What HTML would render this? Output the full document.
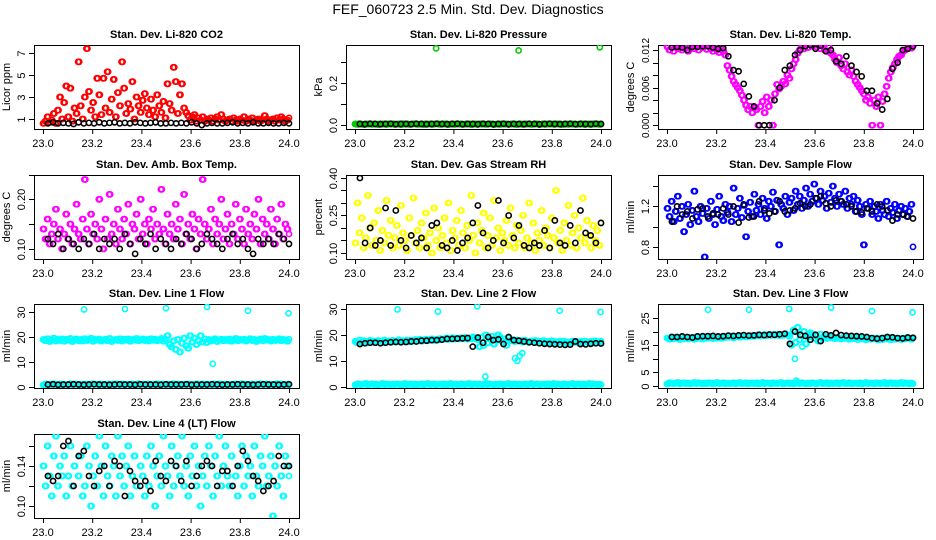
<!DOCTYPE html>
<html><head><meta charset="utf-8"><title>FEF_060723 Diagnostics</title>
<style>
html,body{margin:0;padding:0;background:#fff;}
svg{display:block;font-family:"Liberation Sans",Arial,sans-serif;}
</style></head>
<body>
<svg id="chart" width="936" height="540" viewBox="0 0 936 540" xmlns="http://www.w3.org/2000/svg">
<rect x="0" y="0" width="936" height="540" fill="#fff"/>
<text x="468" y="14" text-anchor="middle" font-size="14" fill="#000">FEF_060723  2.5 Min. Std. Dev. Diagnostics</text>
</svg>
<script>
// ---------------- data ----------------
const xTickVals = [23.0, 23.2, 23.4, 23.6, 23.8, 24.0];
const xTickLabels = ["23.0","23.2","23.4","23.6","23.8","24.0"];
const colorStart = 23.0, colorEnd = 24.0;
const blackStart = 23.02, blackEnd = 24.0;

const co2Red = [0.6,0.8,1.2,0.7,0.9,1.5,0.6,1.8,3.0,1.0,2.5,4.0,1.2,3.8,0.8,2.0,1.5,6.2,2.2,1.0,3.0,7.4,3.5,1.8,2.5,1.2,4.7,3.2,1.4,4.7,2.0,5.3,1.6,2.8,4.6,1.2,3.4,2.2,6.2,3.8,1.5,2.4,1.9,4.4,1.0,3.0,2.2,1.6,2.7,3.3,2.0,1.4,2.8,1.8,1.2,3.2,2.2,1.6,2.6,1.1,4.2,2.4,1.8,5.7,4.4,1.5,3.2,4.2,2.0,1.6,1.3,0.9,1.2,1.4,0.8,1.1,0.9,1.2,0.8,1.0,0.9,1.1,0.8,1.0,1.2,0.9,1.4,1.0,0.8,0.9,1.0,0.8,1.1,0.9,0.8,1.0,0.9,1.2,0.8,1.0,0.9,1.1,0.8,0.9,1.0,0.8,0.9,1.3,1.0,0.8,0.9,1.0,0.8,1.1,0.9,1.2,1.0,0.8,0.9,1.1];
const co2Black = [0.6,0.7,0.6,0.65,0.6,0.55,0.7,0.6,0.65,0.6,0.7,0.6,0.65,0.7,0.6,0.65,0.6,0.7,0.65,0.6,0.65,0.7,0.6,0.6,0.65,0.6,0.65,0.6,0.7,0.6,0.45,0.6,0.65,0.6,0.6,0.65,0.7,0.6,0.65,0.6,0.7,0.6,0.6,0.65,0.6,0.6,0.65,0.6];

const pressGreen = [0.005,0.003,0.006,0.004,0.002,0.005,0.004,0.006,0.003,0.005,0.004,0.002,0.006,0.004,0.005,0.003,0.005,0.004,0.006,0.003,0.004,0.005,0.002,0.006,0.004,0.005,0.003,0.004,0.006,0.005,0.003,0.004,0.005,0.002,0.006,0.004,0.005,0.003,0.004,0.006,0.005,0.003,0.004,0.005,0.006,0.002,0.004,0.005,0.003,0.006,0.004,0.005,0.003,0.004,0.006,0.005,0.002,0.004,0.005,0.003,0.006,0.004,0.005,0.003,0.004,0.006,0.005,0.002,0.004,0.005,0.003,0.006,0.004,0.005,0.003,0.004,0.006,0.005,0.002,0.004,0.005,0.003,0.006,0.004,0.005,0.003,0.004,0.006,0.005,0.002,0.004,0.005,0.003,0.006,0.004,0.005,0.003,0.004,0.006,0.005,0.002,0.004,0.005,0.003,0.006,0.004,0.005,0.003,0.004,0.006,0.005,0.002,0.004,0.005,0.003,0.006,0.004,0.005,0.003,0.004];
const pressOutX = [23.33, 23.665, 23.995];
const pressOutY = [0.365, 0.355, 0.37];
const pressBlack = [0.005,0.004,0.006,0.005,0.004,0.005,0.006,0.004,0.005,0.005,0.004,0.006,0.005,0.004,0.005,0.006,0.005,0.004,0.005,0.006,0.004,0.005,0.005,0.004,0.006,0.005,0.004,0.005,0.006,0.004,0.005,0.005,0.004,0.006,0.005,0.004,0.005,0.006,0.005,0.004,0.005,0.006,0.004,0.005,0.005,0.004,0.006,0.005];

const tempMag = [.0125,.0120,.0128,.0118,.0125,.0122,.0128,.0120,.0126,.0123,.0118,.0125,.0128,.0122,.0126,.0120,.0128,.0124,.0127,.0121,.0126,.0122,.0118,.0124,.0120,.0116,.0122,.0118,.0112,.0095,.0088,.0078,.0070,.0065,.0060,.0055,.0048,.0040,.0032,.0025,.0030,.0020,.0028,.0025,.0000,.0030,.0038,.0020,.0045,.0030,.0040,.0000,.0050,.0065,.0058,.0062,.0070,.0066,.0080,.0075,.0090,.0098,.0105,.0115,.0120,.0125,.0122,.0128,.0124,.0130,.0126,.0130,.0125,.0128,.0122,.0127,.0120,.0118,.0125,.0115,.0112,.0105,.0100,.0108,.0095,.0090,.0098,.0085,.0080,.0088,.0078,.0070,.0065,.0060,.0055,.0050,.0040,.0045,.0035,.0000,.0040,.0030,.0045,.0000,.0038,.0050,.0062,.0075,.0085,.0092,.0098,.0105,.0110,.0112,.0118,.0120,.0122,.0125,.0123,.0126];
const tempBlack = [.0124,.0125,.0124,.0120,.0125,.0125,.0126,.0126,.0124,.0122,.0123,.0110,.0088,.0086,.0066,.0046,.0030,.0000,.0000,.0000,.0040,.0060,.0088,.0095,.0112,.0120,.0126,.0128,.0122,.0127,.0118,.0120,.0102,.0098,.0110,.0095,.0085,.0078,.0055,.0055,.0035,.0025,.0042,.0090,.0100,.0120,.0122,.0126];

const ambMag = [.14,.12,.16,.11,.13,.15,.18,.12,.14,.10,.13,.17,.12,.15,.11,.14,.19,.13,.12,.16,.24,.14,.11,.17,.13,.15,.12,.20,.14,.10,.16,.12,.21,.13,.15,.11,.18,.14,.12,.16,.13,.19,.11,.15,.14,.17,.12,.20,.13,.15,.11,.16,.14,.18,.12,.15,.13,.22,.14,.11,.17,.13,.15,.12,.19,.14,.16,.11,.21,.13,.15,.12,.17,.14,.10,.16,.13,.24,.15,.12,.14,.18,.11,.16,.13,.15,.20,.12,.14,.17,.11,.15,.13,.19,.12,.16,.14,.11,.18,.13,.15,.12,.17,.14,.20,.11,.16,.13,.15,.12,.18,.14,.11,.16,.13,.19,.12,.15,.14,.13];
const ambBlack = [.12,.11,.13,.10,.12,.11,.10,.12,.11,.13,.10,.12,.11,.12,.10,.13,.11,.09,.12,.11,.13,.10,.12,.11,.10,.12,.11,.13,.12,.10,.11,.13,.12,.11,.10,.12,.13,.11,.12,.10,.09,.12,.11,.12,.11,.13,.12,.11];

const rhYellow = [.14,.30,.18,.24,.12,.16,.33,.20,.13,.22,.15,.27,.11,.19,.14,.31,.17,.23,.12,.16,.21,.13,.29,.18,.15,.11,.24,.17,.32,.14,.19,.12,.22,.16,.26,.13,.18,.10,.28,.15,.20,.12,.17,.24,.14,.30,.11,.19,.16,.23,.13,.27,.18,.12,.21,.15,.33,.17,.10,.22,.14,.19,.26,.12,.17,.24,.13,.31,.16,.20,.11,.18,.15,.23,.13,.28,.17,.12,.21,.14,.19,.25,.12,.16,.30,.14,.22,.11,.18,.15,.27,.13,.20,.17,.12,.24,.16,.35,.14,.19,.11,.22,.15,.29,.13,.18,.25,.12,.20,.16,.32,.14,.23,.17,.12,.21,.15,.19,.13,.22];
const rhBlack = [.40,.14,.20,.13,.15,.28,.13,.27,.15,.12,.17,.14,.16,.12,.21,.22,.13,.12,.15,.11,.14,.16,.22,.29,.18,.12,.15,.31,.14,.25,.16,.21,.13,.12,.14,.13,.19,.12,.23,.14,.13,.21,.14,.27,.18,.17,.14,.22];

const flowBlue = [1.18,1.10,1.25,1.05,1.15,1.30,1.08,1.20,0.95,1.12,1.22,1.02,1.16,1.35,1.10,1.05,1.20,1.13,0.70,1.18,1.08,1.25,1.12,1.02,1.17,1.30,1.10,1.06,1.22,1.14,1.20,1.05,1.38,1.12,1.18,1.28,1.09,1.21,0.90,1.15,1.24,1.10,1.32,1.16,1.22,1.12,1.28,1.18,1.08,1.25,1.20,1.34,1.15,1.26,0.82,1.22,1.18,1.30,1.12,1.24,1.28,1.16,1.35,1.22,1.30,1.18,1.26,1.38,1.20,1.32,1.25,1.42,1.28,1.22,1.35,1.26,1.30,1.18,1.33,1.24,1.40,1.28,1.20,1.32,1.25,1.22,1.35,1.18,1.28,1.22,1.30,1.15,1.26,1.20,1.12,0.82,1.22,1.18,1.25,1.12,1.20,1.15,1.08,1.22,1.16,1.12,1.25,1.10,1.18,1.14,1.22,1.08,1.16,1.20,1.12,1.18,1.10,1.15,1.22,0.80];
const flowBlack = [1.05,1.20,1.12,1.15,1.08,1.17,1.18,1.10,1.13,1.12,1.18,1.12,1.20,1.04,1.22,1.09,1.10,1.25,1.16,1.13,1.15,1.25,1.15,1.16,1.18,1.23,1.20,1.22,1.28,1.30,1.23,1.20,1.26,1.25,1.22,1.20,1.15,1.14,1.18,1.15,1.22,1.20,1.16,1.06,1.12,1.12,1.10,1.08];

const line1Upper = [19,18.5,19.3,18.2,18.8,19.5,18.4,19,18.6,19.2,18.3,19.1,18.7,19.4,18.2,18.9,19.2,18.5,19,18.4,19.3,18.6,18.9,19.5,18.3,19,18.7,19.2,18.4,18.8,19.1,18.5,19.4,18.2,18.9,19,18.6,19.3,18.4,19.1,18.7,19.2,18.3,19,18.8,19.4,18.5,18.9,19.2,18.6,19,18.4,19.3,18.7,19.1,18.5,18.9,19.4,18.3,19,20.5,17,16,18.5,15,19,14,17.5,19.5,16.5,15.5,20.5,18,19.5,17,18.5,20.5,18,19.2,17.8,19,18.4,18.8,19.3,18.2,18.9,19.1,18.5,19,18.6,19.2,18.3,18.8,19.4,18.5,19,18.7,19.1,18.4,18.9,19.3,18.6,19,18.2,18.8,19.2,18.5,19.4,18.7,19,18.4,19.1,18.6,18.9,19.3,18.5,19,18.8,18.3,19.1];
const flowLow = [0.8,1.2,1.0,0.9,1.1,1.3,0.8,1.0,1.2,0.9,1.1,0.8,1.0,1.3,0.9,1.2,1.0,0.8,1.1,0.9,1.2,1.0,0.8,1.1,1.3,0.9,1.0,1.2,0.8,1.1,0.9,1.0,1.2,0.8,1.1,1.3,0.9,1.0,1.2,0.8,1.0,1.1,0.9,1.2,0.8,1.0,1.3,0.9,1.1,1.0,0.8,1.2,1.0,0.9,1.1,1.3,0.8,1.0,1.2,0.9,1.1,0.8,1.0,1.3,0.9,1.2,1.0,0.8,1.1,0.9,1.2,1.0,0.8,1.1,1.3,0.9,1.0,1.2,0.8,1.1,0.9,1.0,1.2,0.8,1.1,1.3,0.9,1.0,1.2,0.8,1.0,1.1,0.9,1.2,0.8,1.0,1.3,0.9,1.1,1.0,0.8,1.2,1.0,0.9,1.1,1.3,0.8,1.0,1.2,0.9,1.1,0.8,1.0,1.3,0.9,1.2,1.0,0.8,1.1,0.9];
const line1OutX = [23.167, 23.333, 23.5, 23.667, 23.69, 23.833, 23.998];
const line1OutY = [31, 31.2, 31.5, 32, 9.3, 30.5, 29.5];
const line1Black = [1,1.1,0.9,1,1,1.1,1,0.9,1,1.1,1,1,0.9,1,1.1,1,1,0.9,1.1,1,1,1,0.9,1.1,1,1,1,1.1,0.9,1,1,1,1.1,1,0.9,1,1,1.1,1,1,0.9,1,1.1,1,1,0.9,1,1.1];

const line2Upper = [17.5,17,18,17.2,17.8,17.4,17,17.9,17.3,17.6,17.2,17.8,17.5,17.1,18,17.4,17.7,17.2,17.9,17.5,17.6,18.1,17.3,17.8,17.5,18,17.4,17.9,17.7,18.2,17.8,18.3,17.6,18,18.4,17.8,18.2,18.5,17.9,18.3,18.1,18.6,18.2,18.4,18.8,18.3,18.6,18.9,18.4,18.7,18.5,18.9,18.6,19,18.4,18.8,18.5,19.2,18.7,18.2,15.5,19,16,20,17,18.5,19.5,16.5,18,20,19,17.5,18.5,16,19,17.8,18.2,17.5,18,17.6,17.8,17.3,17.9,17.5,17.2,17.7,17.4,17.8,17.1,17.6,17.3,17.8,17,17.5,17.2,17.7,16.9,17.4,17.1,17.6,17.2,17.5,16.8,17.3,17,17.6,17.2,17.4,16.9,17.5,17.1,17.6,17.3,17,17.5,17.2,17.7,17.4,17.1,17.6];
const line2OutX = [23.173, 23.337, 23.497, 23.53, 23.65, 23.66, 23.67, 23.68, 23.832, 23.998];
const line2OutY = [29.8, 29, 31, 4, 11, 10, 12, 13, 29.3, 28.8];
const line2Black = [16.5,16.8,17,17,16.8,17,17.2,17.3,17.2,17.3,17.5,17.5,17.8,17.8,18,18,18.2,18.5,18.5,18.6,18.7,18.8,15.5,19,17,19.2,18,18.3,16.5,19.2,18,17.8,17.5,17.2,17,16.8,16.6,16.5,16.4,16.3,16.2,16.3,17.5,16.5,16.4,16.6,16.8,16.7];

const line3Upper = [17.6,17.2,18,17.4,17.9,17.5,17.1,18,17.4,17.7,17.3,17.9,17.6,17.2,18.1,17.5,17.8,17.3,18,17.6,17.7,18.2,17.4,17.9,17.6,18.1,17.5,18,17.8,18.2,17.9,18.3,17.7,18.1,18.4,17.9,18.2,18.5,18,18.3,18.2,18.6,18.3,18.5,18.8,18.4,18.6,18.9,18.5,18.7,18.6,18.9,18.7,19,18.5,18.8,18.6,19.2,18.8,18.3,15,20.5,16,21.5,17,18.5,20,15.5,18,19.5,19,17.5,18.5,16.5,19,17.8,18.2,17.5,18,17.7,17.8,17.4,17.9,17.5,17.3,17.8,17.5,17.9,17.2,17.7,17.4,17.8,17.1,17.6,17.3,17.7,17,17.5,17.2,17.6,17.3,17.6,16.9,17.4,17.1,17.7,17.3,17.5,17,17.6,17.2,17.6,17.4,17.1,17.6,17.3,17.8,17.5,17.2,17.7];
const line3OutX = [23.167, 23.333, 23.497, 23.52, 23.525, 23.55, 23.667, 23.833, 23.998];
const line3OutY = [28, 28, 28.3, 10, 2, 14.5, 28.8, 27.5, 27];
const line3Black = [18,18,18.2,18,17.8,18.2,18.3,18.3,18.4,18.2,18.3,18.5,18.4,18.6,18.7,18.5,18.6,18.8,18.7,18.9,18.8,19,19.2,15.5,20,18.8,18.4,17,18.8,16.5,19,18.6,19.5,18.7,18.5,18.4,18.3,18.2,18,17.6,17.4,17.6,18,17.9,17.6,17.5,17.8,17.7];

const line4Cyan = [.14,.12,.16,.13,.11,.15,.17,.12,.14,.13,.15,.11,.13,.16,.12,.14,.18,.13,.15,.11,.12,.16,.14,.10,.13,.15,.12,.17,.14,.11,.16,.13,.12,.15,.14,.11,.17,.13,.15,.12,.14,.16,.11,.13,.15,.12,.18,.14,.13,.11,.15,.12,.16,.14,.10,.13,.15,.12,.17,.14,.13,.11,.16,.12,.14,.15,.13,.17,.12,.14,.11,.15,.13,.16,.12,.14,.10,.13,.15,.12,.16,.14,.11,.15,.13,.17,.12,.14,.16,.13,.12,.15,.18,.13,.11,.14,.16,.12,.15,.13,.14,.11,.16,.13,.12,.15,.14,.17,.12,.13,.15,.09,.14,.12,.16,.13,.11,.15,.14,.13];
const line4Black = [.13,.125,.13,.16,.165,.12,.15,.155,.13,.12,.135,.14,.12,.145,.14,.11,.135,.125,.12,.125,.115,.145,.13,.125,.145,.14,.125,.145,.12,.13,.14,.145,.14,.12,.135,.135,.12,.14,.155,.145,.13,.125,.115,.12,.125,.15,.14,.14];

// ---------------- layout ----------------
const NS = 'http://www.w3.org/2000/svg';
const svg = document.getElementById('chart');
const colX0 = [43, 355, 667];
const rowTop = [45, 175, 304, 434];
const W = 246, H = 84;
const RED = '#ff0000', GREEN = '#00cc00', MAG = '#ff00ff', YEL = '#ffff00', BLUE = '#0000ff', CYAN = '#00ffff', BLK = '#000000';

const panels = [
 {name:'co2', title:'Stan. Dev. Li-820 CO2', ylab:'Licor ppm', col:0,row:0, ymin:0.09,ymax:7.73, fs:11,
  ticks:[1,3,5,7], tlabels:['1','3','5','7'],
  series:[{d:co2Red,c:RED},{d:co2Black,c:BLK,b:true}], outs:[]},
 {name:'pressure', title:'Stan. Dev. Li-820 Pressure', ylab:'kPa', col:1,row:0, ymin:-0.019,ymax:0.381, fs:11,
  ticks:[0,0.1,0.2,0.3], tlabels:['0.0','','0.2',''],
  series:[{d:pressGreen,c:GREEN},{d:pressBlack,c:BLK,b:true}], outs:[{x:pressOutX,y:pressOutY,c:GREEN}]},
 {name:'licor-temp', title:'Stan. Dev. Li-820 Temp.', ylab:'degrees C', col:2,row:0, ymin:-0.0006,ymax:0.0128, fs:10,
  ticks:[0,0.002,0.004,0.006,0.008,0.010,0.012], tlabels:['0.000','','','0.006','','','0.012'],
  series:[{d:tempMag,c:MAG},{d:tempBlack,c:BLK,b:true}], outs:[]},
 {name:'amb-box-temp', title:'Stan. Dev. Amb. Box Temp.', ylab:'degrees C', col:0,row:1, ymin:0.0796,ymax:0.249, fs:11,
  ticks:[0.10,0.15,0.20,0.25], tlabels:['0.10','','0.20',''],
  series:[{d:ambMag,c:MAG},{d:ambBlack,c:BLK,b:true}], outs:[]},
 {name:'gas-stream-rh', title:'Stan. Dev. Gas Stream RH', ylab:'percent', col:1,row:1, ymin:0.0757,ymax:0.412, fs:11,
  ticks:[0.10,0.15,0.20,0.25,0.30,0.35,0.40], tlabels:['0.10','','','0.25','','','0.40'],
  series:[{d:rhYellow,c:YEL},{d:rhBlack,c:BLK,b:true}], outs:[]},
 {name:'sample-flow', title:'Stan. Dev. Sample Flow', ylab:'ml/min', col:2,row:1, ymin:0.68,ymax:1.51, fs:11,
  ticks:[0.8,1.0,1.2,1.4], tlabels:['0.8','','1.2',''],
  series:[{d:flowBlue,c:BLUE},{d:flowBlack,c:BLK,b:true}], outs:[]},
 {name:'line1-flow', title:'Stan. Dev. Line 1 Flow', ylab:'ml/min', col:0,row:2, ymin:-0.4,ymax:33.2, fs:11,
  ticks:[0,10,20,30], tlabels:['0','10','20','30'],
  series:[{d:line1Upper,c:CYAN},{d:flowLow,c:CYAN},{d:line1Black,c:BLK,b:true}], outs:[{x:line1OutX,y:line1OutY,c:CYAN}]},
 {name:'line2-flow', title:'Stan. Dev. Line 2 Flow', ylab:'ml/min', col:1,row:2, ymin:-0.4,ymax:31.9, fs:11,
  ticks:[0,10,20,30], tlabels:['0','10','20','30'],
  series:[{d:line2Upper,c:CYAN},{d:flowLow,c:CYAN},{d:line2Black,c:BLK,b:true}], outs:[{x:line2OutX,y:line2OutY,c:CYAN}]},
 {name:'line3-flow', title:'Stan. Dev. Line 3 Flow', ylab:'ml/min', col:2,row:2, ymin:-0.7,ymax:30.1, fs:11,
  ticks:[0,5,10,15,20,25], tlabels:['0','5','','15','','25'],
  series:[{d:line3Upper,c:CYAN},{d:flowLow,c:CYAN},{d:line3Black,c:BLK,b:true}], outs:[{x:line3OutX,y:line3OutY,c:CYAN}]},
 {name:'line4-flow', title:'Stan. Dev. Line 4 (LT) Flow', ylab:'ml/min', col:0,row:3, ymin:0.088,ymax:0.172, fs:11,
  ticks:[0.10,0.12,0.14,0.16], tlabels:['0.10','','0.14',''],
  series:[{d:line4Cyan,c:CYAN},{d:line4Black,c:BLK,b:true}], outs:[]}
];

function el(tag, parent) {
  const e = document.createElementNS(NS, tag);
  parent.appendChild(e);
  return e;
}
function setA(e, o) { for (const k in o) e.setAttribute(k, o[k]); }

panels.forEach(p => {
  const x0 = colX0[p.col], top = rowTop[p.row], bot = top + H;
  const L = x0 - 9, R = x0 + W + 10;
  const sx = v => x0 + (v - 23) * W;
  const sy = v => bot - (v - p.ymin) / (p.ymax - p.ymin) * H;

  const g = el('g', svg);
  
  

  const t = el('text', g);
  
  
  setA(t, {x:(L+R)/2, y:top-7, 'text-anchor':'middle', 'font-size':11, 'font-weight':'bold'});
  t.textContent = p.title;

  const box = el('rect', g);
  
  
  setA(box, {x:L+0.5, y:top+0.5, width:R-L, height:H, fill:'none', stroke:'#000', 'stroke-width':1});

  const xa = el('g', g);
  
  
  xTickVals.forEach((v, i) => {
    const tk = el('line', xa);
    
    
    setA(tk, {x1:sx(v)+0.5, x2:sx(v)+0.5, y1:bot, y2:bot+5, stroke:'#000'});
    const lb = el('text', xa);
    
    
    setA(lb, {x:sx(v), y:bot+18, 'text-anchor':'middle', 'font-size':11});
    lb.textContent = xTickLabels[i];
  });

  const ya = el('g', g);
  
  
  p.ticks.forEach((v, i) => {
    const y = Math.round(sy(v)) + 0.5;
    const tk = el('line', ya);
    
    
    setA(tk, {x1:L-5, x2:L, y1:y, y2:y, stroke:'#000'});
    if (p.tlabels[i]) {
      const lb = el('text', ya);
      
      
      setA(lb, {x:0, y:0, 'text-anchor':'middle', 'font-size':p.fs, transform:'translate(' + (L-9) + ',' + y + ') rotate(-90)'});
      lb.textContent = p.tlabels[i];
    }
  });
  const yt = el('text', ya);
  
  
  setA(yt, {x:0, y:0, 'text-anchor':'middle', 'font-size':11, transform:'translate(' + (L-24) + ',' + ((top+bot)/2) + ') rotate(-90)'});
  yt.textContent = p.ylab;

  const clipId = 'clip-' + p.name;
  const cp = el('clipPath', g);
  cp.setAttribute('id', clipId);
  const cr = el('rect', cp);
  setA(cr, {x:L, y:top, width:R-L, height:H});
  const pts = el('g', g);
  
  
  pts.setAttribute('clip-path', 'url(#' + clipId + ')');

  function dot(xv, yv, c) {
    const ci = el('circle', pts);
    
    
    setA(ci, {cx:sx(xv), cy:sy(yv), r:2.6, fill:'none', stroke:c, 'stroke-width':1.6});
  }
  const colored = p.series.filter(s => !s.b), blacks = p.series.filter(s => s.b);
  colored.forEach(s => {
    const n = s.d.length, step = (colorEnd - colorStart) / (n - 1);
    // each observation drawn as a wider cluster of marks to mimic dense 2.5-min sampling
    s.d.forEach((v, i) => {
      dot(colorStart + i * step, v, s.c);
      if (i < n - 1) dot(colorStart + (i + 0.5) * step, v, s.c);
    });
  });
  p.outs.forEach(o => o.x.forEach((xv, i) => dot(xv, o.y[i], o.c)));
  blacks.forEach(s => {
    const n = s.d.length;
    s.d.forEach((v, i) => dot(blackStart + i * (blackEnd - blackStart) / (n - 1), v, s.c));
  });
});
</script>
</body></html>
